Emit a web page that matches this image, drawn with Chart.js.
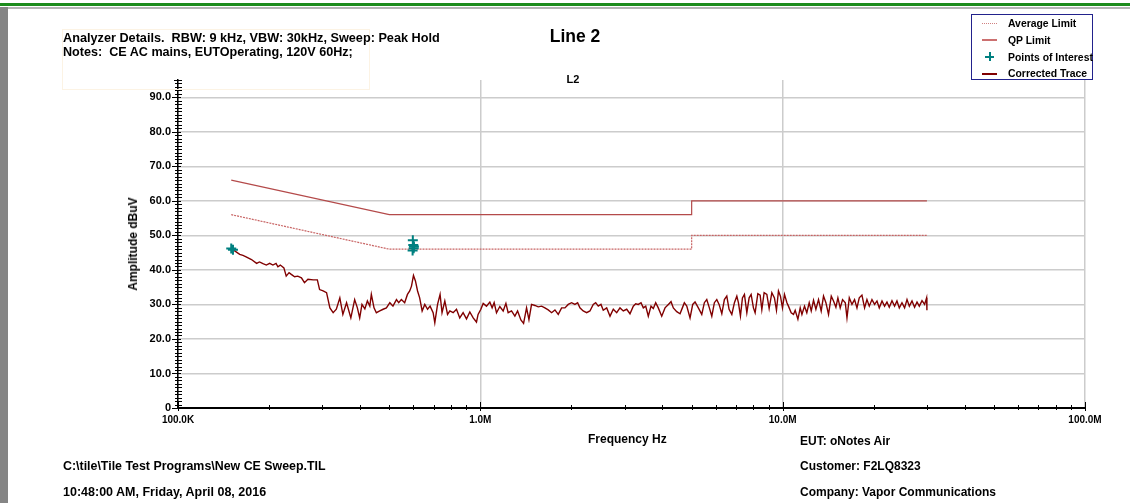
<!DOCTYPE html>
<html>
<head>
<meta charset="utf-8">
<script src="https://cdn.jsdelivr.net/npm/chart.js@4"></script>
<style>
  html, body { margin: 0; padding: 0; background: #fff; }
  #wrap { position: relative; width: 1130px; height: 503px; overflow: hidden;
          font-family: "Liberation Sans", Arial, sans-serif; font-weight: bold; color: #000; }
  #chart { position: absolute; left: 0; top: 0; }
  .t { position: absolute; white-space: nowrap; font-size: 12px; line-height: 12px; }
  .lg { position: absolute; white-space: nowrap; font-size: 10.4px; line-height: 10px; left: 1008px; }
  .sym { position: absolute; left: 982px; width: 15px; height: 0; }
</style>
</head>
<body>
<div id="wrap">
  <!-- window frame -->
  <div style="position:absolute;left:0;top:3px;width:1130px;height:3px;background:#1c8c1c"></div>
  <div style="position:absolute;left:8px;top:7px;width:1122px;height:2px;background:#b4b4b4"></div>
  <div style="position:absolute;left:0;top:7px;width:8px;height:496px;background:#858585"></div>

  <canvas id="chart" width="1130" height="503"></canvas>

  <!-- header notes -->
  <div style="position:absolute;left:62px;top:29px;width:306px;height:59px;border:1px solid #fcf3e4"></div>
  <div class="t" style="left:63px;top:32px;font-size:12.7px">Analyzer Details.&nbsp; RBW: 9 kHz, VBW: 30kHz, Sweep: Peak Hold</div>
  <div class="t" style="left:63px;top:46px;font-size:12.6px">Notes:&nbsp; CE AC mains, EUTOperating, 120V 60Hz;</div>
  <div class="t" style="left:575px;top:28px;font-size:17.5px;line-height:17px;transform:translateX(-50%)">Line 2</div>
  <div class="t" style="left:573px;top:74px;font-size:11px;line-height:11px;transform:translateX(-50%)">L2</div>

  <!-- legend -->
  <div style="position:absolute;left:971px;top:14px;width:120px;height:64px;border:1.5px solid #22228c"></div>
  <div class="sym" style="top:23px;border-top:1.5px dotted #d08080"></div>
  <div class="lg" style="top:19px">Average Limit</div>
  <div class="sym" style="top:39px;height:1.5px;background:#cc7070"></div>
  <div class="lg" style="top:36px">QP Limit</div>
  <div style="position:absolute;left:985px;top:56px;width:9px;height:1.5px;background:#008080"></div>
  <div style="position:absolute;left:989px;top:52px;width:1.5px;height:9px;background:#008080"></div>
  <div class="lg" style="top:53px">Points of Interest</div>
  <div class="sym" style="top:73px;height:2px;background:#800000"></div>
  <div class="lg" style="top:69px">Corrected Trace</div>

  <!-- axis titles -->
  <div class="t" style="left:133px;top:244px;transform:translate(-50%,-50%) rotate(-90deg)">Amplitude dBuV</div>
  <div class="t" style="left:588px;top:433px">Frequency Hz</div>

  <!-- footer -->
  <div class="t" style="left:63px;top:460px;font-size:12.4px">C:\tile\Tile Test Programs\New CE Sweep.TIL</div>
  <div class="t" style="left:63px;top:486px;font-size:12.5px">10:48:00 AM, Friday, April 08, 2016</div>
  <div class="t" style="left:800px;top:435px">EUT: oNotes Air</div>
  <div class="t" style="left:800px;top:460px">Customer: F2LQ8323</div>
  <div class="t" style="left:800px;top:486px">Company: Vapor Communications</div>
</div>

<script>
// axis ticks
const yTickValues = [0, 10, 20, 30, 40, 50, 60, 70, 80, 90];
const yTickLabels = ['0', '10.0', '20.0', '30.0', '40.0', '50.0', '60.0', '70.0', '80.0', '90.0'];
const xTickValues = [0.1, 1, 10, 100];          // MHz
const xTickLabels = ['100.0K', '1.0M', '10.0M', '100.0M'];

// limits (MHz, dBuV)
const qpFreq = [0.15, 0.5, 5, 5, 30];
const qpLevel = [66, 56, 56, 60, 60];
const avgFreq = [0.15, 0.5, 5, 5, 30];
const avgLevel = [56, 46, 46, 50, 50];

// points of interest
const poiFreq = [0.150, 0.152, 0.598, 0.600, 0.602, 0.597, 0.603];
const poiLevel = [46.2, 45.8, 48.6, 47.2, 46.3, 45.6, 46.8];

// corrected trace
const traceFreq = [
  0.150, 0.154, 0.160, 0.164, 0.168, 0.175, 0.182, 0.186, 0.191, 0.196,
  0.201, 0.206, 0.211, 0.214, 0.218, 0.224, 0.228, 0.233, 0.237, 0.243,
  0.249, 0.256, 0.262, 0.269, 0.280, 0.289, 0.294, 0.302, 0.310, 0.318,
  0.326, 0.334, 0.343, 0.351, 0.361, 0.373, 0.384, 0.392, 0.399, 0.406,
  0.415, 0.423, 0.431, 0.436, 0.445, 0.453, 0.465, 0.477, 0.489, 0.502,
  0.514, 0.528, 0.537, 0.548, 0.562, 0.574, 0.584, 0.592, 0.601, 0.610,
  0.620, 0.630, 0.642, 0.655, 0.669, 0.682, 0.698, 0.707, 0.722, 0.736,
  0.747, 0.763, 0.779, 0.793, 0.813, 0.834, 0.855, 0.877, 0.900, 0.923,
  0.947, 0.971, 0.983,
  1.004, 1.022, 1.048, 1.075, 1.094, 1.111, 1.131, 1.160, 1.190, 1.215,
  1.236, 1.268, 1.301, 1.328, 1.362, 1.390, 1.422, 1.448, 1.477, 1.515,
  1.554, 1.595, 1.635, 1.677, 1.721, 1.765, 1.810, 1.857, 1.905, 1.953,
  2.004, 2.055, 2.098, 2.135, 2.189, 2.247, 2.304, 2.363, 2.407, 2.455,
  2.506, 2.550, 2.618, 2.685, 2.753, 2.825, 2.897, 2.971, 3.049, 3.126,
  3.206, 3.265, 3.330, 3.400, 3.460, 3.524, 3.594, 3.669, 3.734, 3.802,
  3.878, 3.981, 4.082, 4.187, 4.273, 4.349, 4.463, 4.577, 4.658, 4.729,
  4.817, 4.939, 5.041, 5.131, 5.261, 5.400, 5.508, 5.610, 5.722, 5.829,
  5.945, 6.055, 6.162, 6.291, 6.416, 6.534, 6.649, 6.789, 6.925, 7.053,
  7.139, 7.250, 7.361, 7.474, 7.612, 7.746, 7.865, 8.004, 8.108, 8.277,
  8.424, 8.533, 8.683, 8.865, 9.022, 9.209, 9.393, 9.539, 9.685, 9.833,
  9.985, 10.14, 10.33, 10.45, 10.67, 10.86, 11.00, 11.23, 11.43, 11.58,
  11.81, 12.02, 12.24, 12.43, 12.65, 12.88, 13.14, 13.41, 13.65, 13.90,
  14.18, 14.48, 14.73, 15.00, 15.23, 15.50, 15.78, 16.11, 16.32, 16.61,
  16.95, 17.29, 17.61, 17.92, 18.29, 18.66, 19.00, 19.34, 19.74, 20.14,
  20.51, 20.87, 21.31, 21.73, 22.13, 22.52, 22.99, 23.45, 23.88, 24.31,
  24.81, 25.31, 25.78, 26.24, 26.78, 27.31, 27.82, 28.31, 28.90, 29.48,
  29.93, 30.00
];
const traceLevel = [
  46.1, 45.5, 44.5, 44.2, 43.8, 43.0, 41.9, 42.3, 41.8, 41.4,
  41.9, 41.4, 41.9, 40.9, 41.4, 40.6, 38.2, 39.2, 38.7, 38.0,
  38.2, 37.7, 36.3, 37.3, 37.1, 37.1, 34.3, 33.9, 33.4, 29.0,
  27.6, 28.6, 31.9, 27.1, 30.5, 26.1, 31.4, 29.0, 26.1, 30.0,
  28.7, 31.0, 29.5, 32.9, 29.0, 27.6, 28.1, 28.6, 29.0, 30.5,
  29.5, 31.4, 30.5, 31.4, 30.5, 32.9, 33.9, 35.3, 38.4, 36.8,
  33.9, 31.9, 28.1, 30.0, 28.6, 29.5, 27.6, 24.7, 30.0, 32.9,
  27.6, 31.0, 27.1, 28.1, 27.6, 28.6, 26.1, 27.6, 25.8, 27.8,
  26.1, 24.9, 27.1,
  28.6, 30.3, 29.5, 30.7, 29.0, 30.5, 27.6, 29.4, 28.1, 30.3,
  27.6, 28.1, 26.6, 28.1, 25.5, 24.5, 29.0, 25.6, 30.0, 29.7,
  29.3, 29.5, 29.0, 28.4, 27.6, 28.4, 27.1, 29.0, 29.0, 30.0,
  30.5, 30.0, 30.5, 29.0, 28.1, 27.6, 28.1, 30.0, 30.5, 29.5,
  30.0, 28.3, 29.0, 26.6, 28.6, 27.6, 29.0, 28.1, 28.6, 27.3,
  29.5, 30.2, 30.0, 30.5, 29.0, 29.5, 26.6, 29.5, 28.8, 30.5,
  29.0, 26.6, 29.0, 30.0, 30.8, 29.0, 27.9, 27.3, 29.0, 30.5,
  29.5, 26.1, 30.0, 30.7, 29.0, 27.1, 30.5, 31.4, 29.0, 26.6,
  30.5, 31.4, 30.0, 27.3, 31.4, 32.4, 28.6, 27.1, 30.5, 32.4,
  30.5, 26.6, 31.9, 32.9, 27.6, 31.9, 32.9, 29.0, 27.6, 33.1,
  32.7, 28.5, 33.4, 32.9, 28.8, 33.4, 31.9, 28.3, 33.9, 32.4,
  29.0, 32.9, 30.5, 29.5, 27.6, 27.1, 28.3, 25.7, 29.0, 27.1,
  29.5, 27.6, 30.5, 28.1, 31.2, 28.6, 31.4, 28.1, 32.4, 30.5,
  27.1, 32.4, 31.0, 29.2, 31.9, 29.0, 31.4, 30.5, 26.1, 31.9,
  30.0, 31.4, 29.0, 31.9, 32.7, 29.0, 31.4, 29.5, 31.4, 30.0,
  31.0, 29.0, 31.0, 29.5, 30.7, 29.2, 31.1, 29.5, 31.0, 29.0,
  30.5, 29.0, 31.4, 29.5, 31.0, 29.2, 30.7, 29.5, 31.1, 30.0,
  31.9, 28.3
];

const yMax = 95;

const pts = (xs, ys) => xs.map((x, i) => ({ x, y: ys[i] }));

// minor / crossing ticks and the axis cap
const axisTicks = {
  id: 'axisTicks',
  afterDraw(chart) {
    const { ctx, chartArea: a, scales: { x, y } } = chart;
    ctx.save();
    ctx.strokeStyle = '#000';
    ctx.lineWidth = 1;
    ctx.beginPath();
    for (let v = 0; v <= yMax; v++) {
      const py = Math.round(y.getPixelForValue(v)) + 0.5;
      if (v % 10 === 0) { ctx.moveTo(a.left - 6, py); ctx.lineTo(a.left + 3, py); }
      else { ctx.moveTo(a.left - 3, py); ctx.lineTo(a.left + 4, py); }
    }
    ctx.moveTo(a.left - 4, a.top + 0.5); ctx.lineTo(a.left + 4, a.top + 0.5);
    xTickValues.forEach((d, i) => {
      const px = Math.round(x.getPixelForValue(d)) + 0.5;
      ctx.moveTo(px, a.bottom - 6); ctx.lineTo(px, a.bottom + 3);
      if (i === xTickValues.length - 1) return;
      for (let m = 2; m <= 9; m++) {
        const mx = Math.round(x.getPixelForValue(d * m)) + 0.5;
        ctx.moveTo(mx, a.bottom - 3); ctx.lineTo(mx, a.bottom + 2);
      }
    });
    ctx.stroke();
    ctx.restore();
  }
};

new Chart(document.getElementById('chart'), {
  type: 'line',
  data: {
    datasets: [
      { label: 'Points of Interest', data: pts(poiFreq, poiLevel), showLine: false,
        pointStyle: 'cross', pointRadius: 5, borderColor: '#008080', borderWidth: 2 },
      { label: 'Corrected Trace', data: pts(traceFreq, traceLevel), borderColor: '#800000',
        borderWidth: 1.4, pointRadius: 0 },
      { label: 'QP Limit', data: pts(qpFreq, qpLevel), borderColor: '#b44a4a',
        borderWidth: 1.2, pointRadius: 0 },
      { label: 'Average Limit', data: pts(avgFreq, avgLevel), borderColor: '#c86464',
        borderWidth: 1.2, borderDash: [2, 1], pointRadius: 0 }
    ]
  },
  options: {
    responsive: false,
    animation: false,
    layout: { padding: { left: 0, top: 80, right: 45, bottom: 0 } },
    plugins: { legend: { display: false }, tooltip: { enabled: false } },
    elements: { line: { tension: 0 } },
    scales: {
      x: {
        type: 'logarithmic', min: 0.1, max: 100,
        afterBuildTicks: s => { s.ticks = xTickValues.map(v => ({ value: v })); },
        afterFit: s => { s.height = 95; },
        grid: { color: '#cccccc', lineWidth: 1.5, drawTicks: false },
        border: { color: '#000', width: 2 },
        ticks: {
          autoSkip: false, maxRotation: 0, padding: 6, color: '#000',
          font: { family: 'Liberation Sans', size: 10, weight: 'bold' },
          callback: v => xTickLabels[xTickValues.indexOf(v)]
        }
      },
      y: {
        type: 'linear', min: 0, max: yMax,
        afterBuildTicks: s => { s.ticks = yTickValues.map(v => ({ value: v })); },
        afterFit: s => { s.width = 178; },
        grid: { color: '#cccccc', lineWidth: 1.5, drawTicks: false },
        border: { color: '#000', width: 1.5 },
        ticks: {
          padding: 7, color: '#000',
          font: { family: 'Liberation Sans', size: 11, weight: 'bold' },
          callback: v => yTickLabels[yTickValues.indexOf(v)]
        }
      }
    }
  },
  plugins: [axisTicks]
});
</script>
</body>
</html>
